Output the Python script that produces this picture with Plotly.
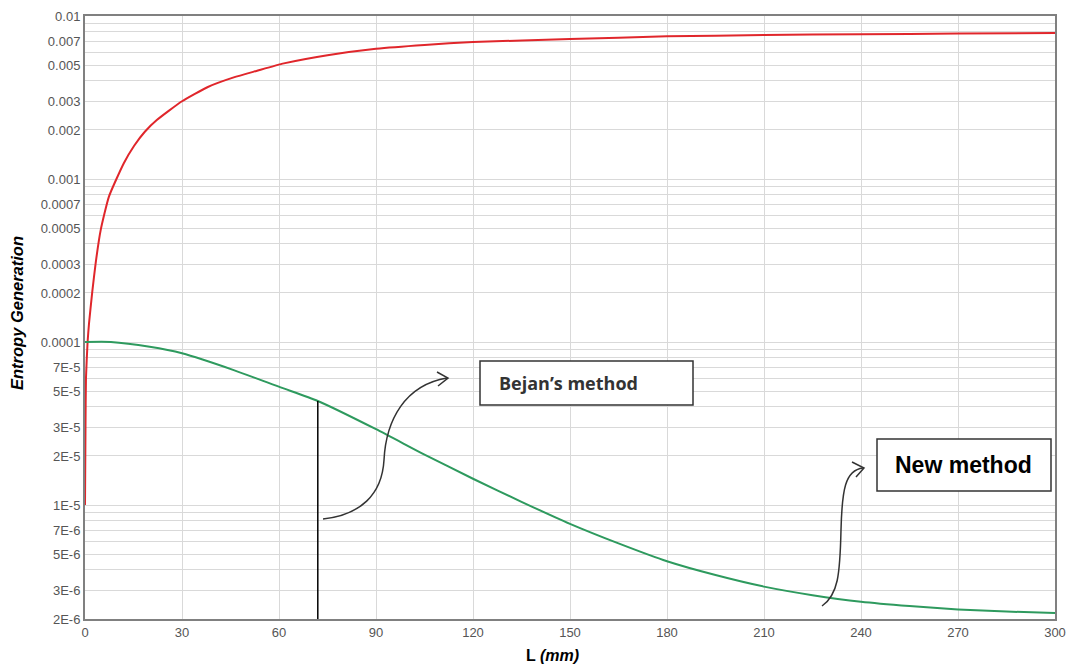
import numpy as np
import plotly.graph_objects as go

# ---- data ----
L_red = [0, 0.15, 0.3, 0.8, 1.24, 2.27, 3.3, 4.85, 7.4, 12, 15.2, 18.5, 22.2, 30, 38, 46,
         53, 61.5, 75, 90, 105, 120, 150, 180, 210, 240, 270, 300]
S_red = [1e-5, 3e-5, 6e-5, 1.0e-4, 1.3e-4, 2.05e-4, 3.05e-4, 4.86e-4, 7.8e-4, 1.25e-3,
         1.6e-3, 1.95e-3, 2.3e-3, 3.0e-3, 3.67e-3, 4.2e-3, 4.6e-3, 5.12e-3, 5.75e-3,
         6.3e-3, 6.65e-3, 6.92e-3, 7.22e-3, 7.5e-3, 7.64e-3, 7.73e-3, 7.8e-3, 7.87e-3]

L_green = [0, 8, 20, 30, 46, 60.5, 72, 90, 105, 120, 135, 150, 165, 180, 195, 210,
           225, 240, 255, 270, 285, 300]
S_green = [1.0e-4, 1.0e-4, 9.35e-5, 8.53e-5, 6.73e-5, 5.27e-5, 4.35e-5, 2.92e-5, 2.04e-5,
           1.45e-5, 1.047e-5, 7.67e-6, 5.82e-6, 4.52e-6, 3.72e-6, 3.16e-6, 2.80e-6,
           2.55e-6, 2.40e-6, 2.29e-6, 2.22e-6, 2.18e-6]

marker_L = [72, 72]
marker_S = [2e-6, 4.35e-5]

x_ticks = list(range(0, 301, 30))
y_mantissas = [1, 2, 3, 4, 5, 6, 7, 8, 9]
y_labeled = [1, 2, 3, 5, 7]
y_exponents = [-6, -5, -4, -3]

# ---- build y ticks ----
yvals, ytext = [], []
for e in y_exponents:
    for m in y_mantissas:
        v = m * 10.0 ** e
        if v < 2e-6 - 1e-12:
            continue
        yvals.append(v)
        if m in y_labeled:
            if e >= -4:
                ytext.append(f"{v:.{-e}f}")
            else:
                ytext.append(f"{m}E{e}")
        else:
            ytext.append("")
yvals.append(0.01)
ytext.append("0.01")

fig = go.Figure()
fig.add_trace(go.Scatter(x=L_red, y=S_red, mode="lines",
                         line=dict(color="#e0262b", width=2, shape="spline", smoothing=0.5)))
fig.add_trace(go.Scatter(x=L_green, y=S_green, mode="lines",
                         line=dict(color="#2e9a5e", width=2, shape="spline", smoothing=0.6)))
fig.add_trace(go.Scatter(x=marker_L, y=marker_S, mode="lines",
                         line=dict(color="black", width=1.5)))

# plot area on the page spans x 85..1055, y 16..619 (body margin removed below)
W, H = 1068, 665
PL, PR, PT, PB = 85, 1055, 16, 619
ML, MT = PL, PT
MR = W - PR
MB = H - PB
PW, PH = PR - PL, PB - PT


def px(x, y):
    return (x - PL) / PW, (PB - y) / PH


def path(cmds):
    out = []
    for c in cmds:
        op = c[0]
        pts = c[1:]
        s = op + " " + " ".join(f"{px(a, b)[0]:.5f},{px(a, b)[1]:.5f}" for a, b in pts)
        out.append(s)
    return " ".join(out)


shapes = []
arrow_style = dict(color="#333333", width=1.5)
shapes.append(dict(type="path", xref="paper", yref="paper", line=arrow_style,
                   path=path([("M", (323, 519)), ("C", (360, 515), (382, 495), (384, 460)),
                              ("C", (386, 420), (405, 385), (447, 378))])))
shapes.append(dict(type="path", xref="paper", yref="paper", line=arrow_style,
                   path=path([("M", (437, 372)), ("L", (448, 378)), ("L", (438, 386))])))
shapes.append(dict(type="path", xref="paper", yref="paper", line=arrow_style,
                   path=path([("M", (822, 606)), ("C", (838, 595), (840, 575), (841, 530)),
                              ("C", (842, 490), (845, 470), (863, 468))])))
shapes.append(dict(type="path", xref="paper", yref="paper", line=arrow_style,
                   path=path([("M", (852, 462)), ("L", (864, 468)), ("L", (856, 477))])))

# boxes
for (x0, y0, x1, y1) in [(480, 361, 693, 405), (877, 439, 1051, 491)]:
    a0 = px(x0, y1)
    a1 = px(x1, y0)
    shapes.append(dict(type="rect", xref="paper", yref="paper",
                       x0=a0[0], y0=a0[1], x1=a1[0], y1=a1[1],
                       line=dict(color="#333333", width=1.5), fillcolor="white"))

bx, by = px(497, 383)
nx, ny = px(963, 465)
tx, ty = px(552, 655)
yx, yy = px(17, 313)
annotations = [
    dict(xref="paper", yref="paper", x=bx, y=by, xanchor="left", yanchor="middle",
         text="<b>Bejan’s method</b>", showarrow=False,
         font=dict(family="Open Sans, Lato, sans-serif", size=18, color="#333333")),
    dict(xref="paper", yref="paper", x=nx, y=ny, xanchor="center", yanchor="middle",
         text="<b>New method</b>", showarrow=False,
         font=dict(family="Liberation Sans, Arial, sans-serif", size=23, color="black")),
    dict(xref="paper", yref="paper", x=tx, y=ty, xanchor="center", yanchor="middle",
         text="<b>L <i>(mm)</i></b>", showarrow=False,
         font=dict(family="Liberation Sans, Arial, sans-serif", size=16, color="black")),
    dict(xref="paper", yref="paper", x=yx, y=yy, xanchor="center", yanchor="middle",
         text="<b><i>Entropy Generation</i></b>", showarrow=False, textangle=-90,
         font=dict(family="Liberation Sans, Arial, sans-serif", size=16.5, color="black")),
]

fig.update_layout(
    width=W, height=H,
    margin=dict(l=ML, r=MR, t=MT, b=MB, autoexpand=False),
    paper_bgcolor="white", plot_bgcolor="white",
    showlegend=False,
    shapes=shapes, annotations=annotations,
    font=dict(family="Liberation Sans, Arial, sans-serif", size=13, color="#555555"),
)
fig.update_xaxes(range=[0, 300], tickvals=x_ticks, showgrid=True, gridcolor="#d9d9d9",
                 gridwidth=1, zeroline=False, showline=True, linecolor="#808080",
                 linewidth=2, mirror=True, ticks="", automargin=False,
                 tickfont=dict(size=13, color="#555555"))
fig.update_yaxes(type="log", range=[np.log10(2e-6), -2], tickvals=yvals, ticktext=ytext,
                 showgrid=True, gridcolor="#d9d9d9", gridwidth=1, zeroline=False,
                 showline=True, linecolor="#808080", linewidth=2, mirror=True,
                 ticks="", automargin=False, tickfont=dict(size=13, color="#555555"))

fig.write_html("out.html", config={"displayModeBar": False},
               post_script="document.body.style.margin='0';document.body.style.overflow='hidden';")
